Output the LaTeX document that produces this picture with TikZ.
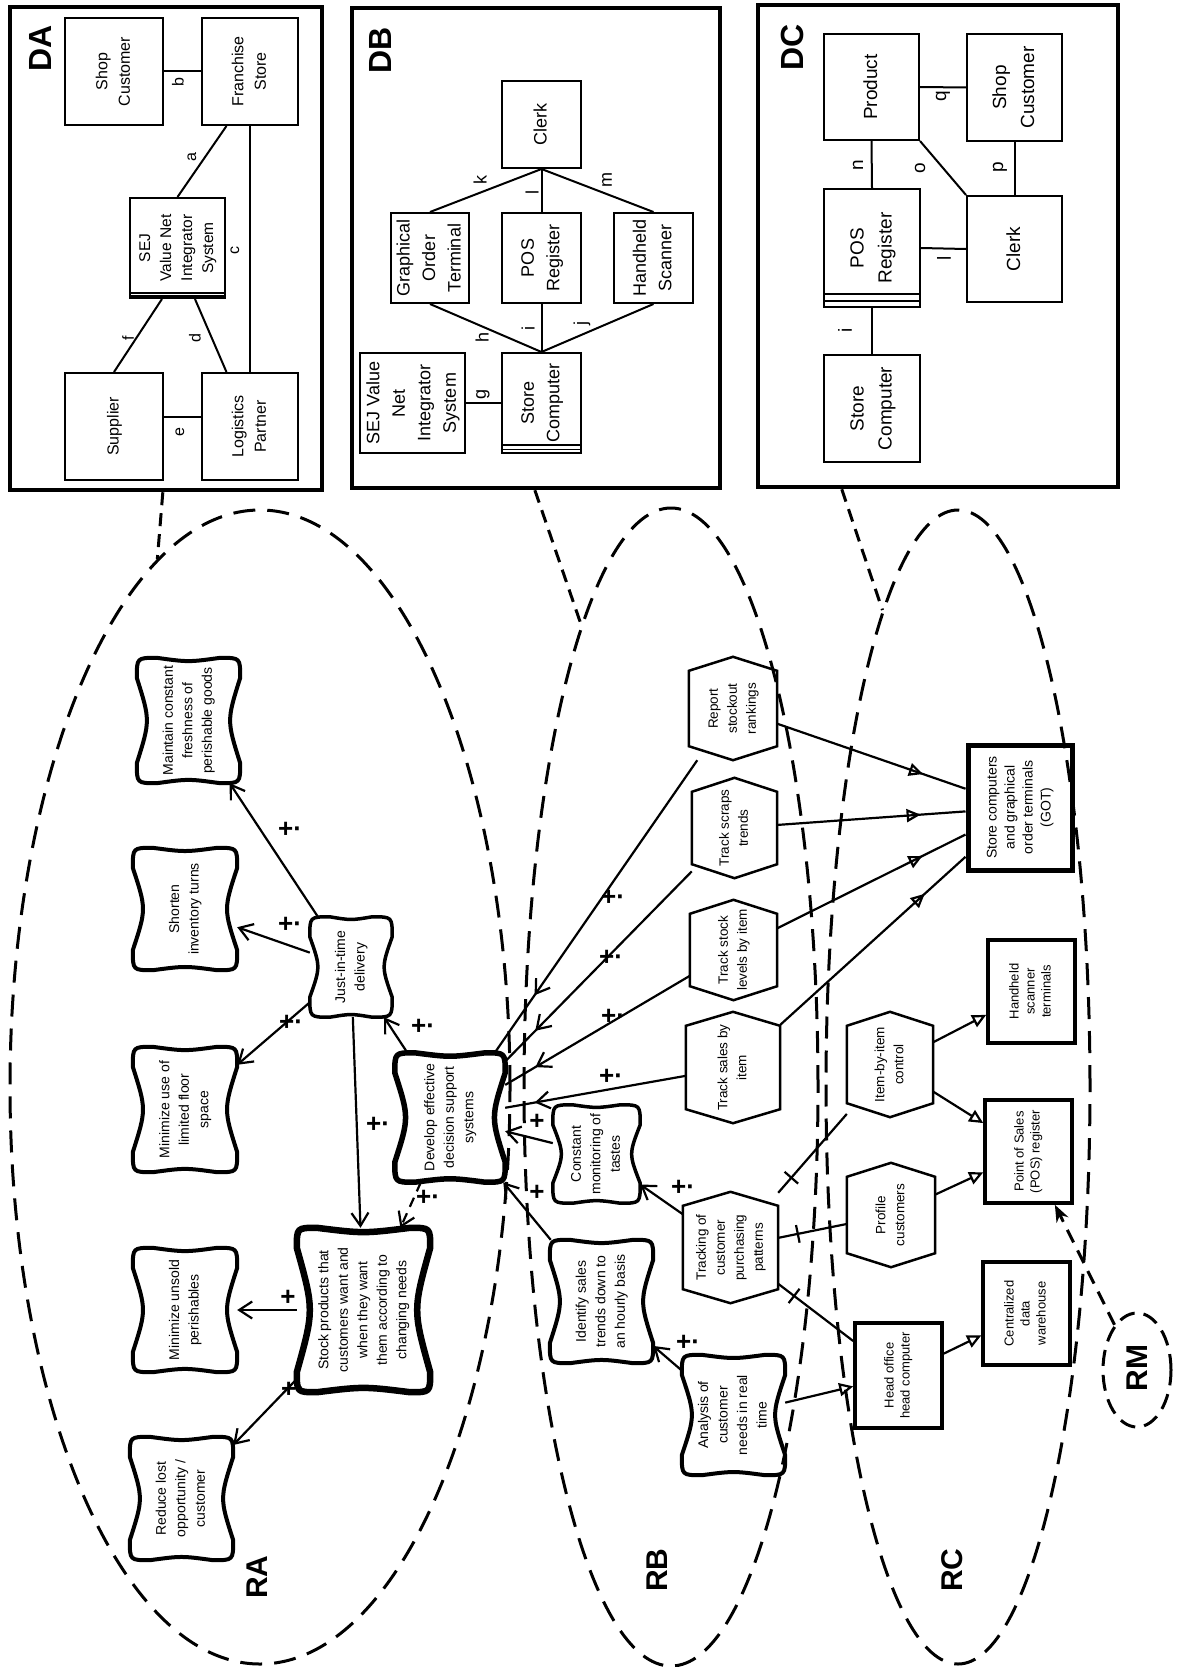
\documentclass[tikz,border=0pt]{standalone}
\usepackage{fontspec}
\setmainfont{Liberation Sans}
\usepackage{graphicx}
\usetikzlibrary{arrows.meta,calc,shapes.geometric,decorations.markings}

% text turned a quarter turn, lines centred
\newcommand\vtext[1]{\rotatebox{90}{\begin{tabular}{@{}c@{}}#1\end{tabular}}}

% soft goal outline: well rounded box with gently pinched sides
\newcommand\cushion[2]{%
  \draw[line width=#2,line join=round]
    let \p1=(#1.north west), \p2=(#1.south east),
        \n1={\x2-\x1}, \n2={\y1-\y2} in
    ({\x1+20pt},\y1)
    .. controls ({0.5*\x1+0.5*\x2},{\y1-0.035*\n2}) .. ({\x2-20pt},\y1)
    .. controls (\x2,\y1) .. (\x2,{\y1-20pt})
    .. controls ({\x2-0.13*\n1},{0.5*\y1+0.5*\y2}) .. (\x2,{\y2+20pt})
    .. controls (\x2,\y2) .. ({\x2-20pt},\y2)
    .. controls ({0.5*\x1+0.5*\x2},{\y2+0.035*\n2}) .. ({\x1+20pt},\y2)
    .. controls (\x1,\y2) .. (\x1,{\y2+20pt})
    .. controls ({\x1+0.13*\n1},{0.5*\y1+0.5*\y2}) .. (\x1,{\y1-20pt})
    .. controls (\x1,\y1) .. ({\x1+20pt},\y1) -- cycle;}

% task outline: hexagon pointed at top and bottom
\newcommand\hexa[1]{%
  \draw[hexline] (#1.north) -- ([yshift=-14pt]#1.north east)
    -- ([yshift=14pt]#1.south east) -- (#1.south)
    -- ([yshift=14pt]#1.south west) -- ([yshift=-14pt]#1.north west) -- cycle;}

\newcommand\fsA{\fontsize{16}{22.5}\selectfont}
\newcommand\fsB{\fontsize{18}{25.5}\selectfont}
\newcommand\fsC{\fontsize{19}{28}\selectfont}

\tikzset{
  vhead/.tip={Straight Barb[length=13pt,width=17pt]},
  trihead/.tip={Triangle[open,length=14pt,width=13pt]},
  outerframe/.style={draw,line width=4.5pt,inner sep=0pt},
  dnode/.style={draw,line width=2pt,inner sep=0pt},
  dline/.style={line width=2pt},
  linklabel/.style={inner sep=0pt,rotate=90},
  biglabel/.style={inner sep=0pt,rotate=90,font=\fontsize{32}{32}\selectfont\bfseries},
  reglabel/.style={inner sep=0pt,rotate=90,font=\fontsize{30}{30}\selectfont\bfseries},
  region/.style={ellipse,draw,line width=3pt,dash pattern=on 22pt off 12pt,inner sep=0pt},
  dlink/.style={line width=3pt,dash pattern=on 13pt off 8pt},
  sgnode/.style={inner sep=0pt,font=\fontsize{14}{19.5}\selectfont},
  hexnode/.style={inner sep=0pt,font=\fontsize{13.5}{19}\selectfont},
  hexline/.style={line width=2.5pt,line join=miter},
  resnode/.style={draw,line width=3.5pt,inner sep=0pt,font=\fontsize{13}{16}\selectfont},
  cline/.style={line width=2.2pt},
  contrib/.style={cline,-{vhead}},
  vat/.style={decoration={markings,mark=at position #1 with {\arrow{vhead}}},postaction={decorate}},
  triat/.style={decoration={markings,mark=at position #1 with {\arrow{trihead}}},postaction={decorate}},
  meansend/.style={cline,-{trihead}},
  decomp/.style={cline,decoration={markings,mark=at position 20pt with {\draw[line width=2.2pt] (0pt,-9pt) -- (0pt,9pt);}},postaction={decorate}},
  rmlink/.style={line width=3pt,dash pattern=on 14pt off 9pt,-{Stealth[length=17pt,width=13pt]}},
  plus/.style={inner sep=0pt,font=\fontsize{26}{26}\selectfont\bfseries},
}

\begin{document}
\begin{tikzpicture}[x=1pt,y=-1pt]
\useasboundingbox (0,0) rectangle (1178,1667);
\fill[white] (0,0) rectangle (1178,1667);

% ---------- regions ----------
\node[region,minimum width=500pt,minimum height=1154pt] (ra) at (260,1087) {};
\node[region,minimum width=294pt,minimum height=1158pt] (rb) at (671,1087) {};
\node[region,minimum width=264pt,minimum height=1154pt] (rc) at (958,1087) {};
\node[region,dash pattern=on 16pt off 9pt,minimum width=68pt,minimum height=114pt] (rm) at (1137,1370) {};
\node[reglabel] (lra) at (257,1577) {RA};
\node[reglabel] (lrb) at (657,1570) {RB};
\node[reglabel] (lrc) at (952,1570) {RC};
\node[reglabel] (lrm) at (1137,1368) {RM};

% ---------- DA ----------
\node[outerframe,minimum width=312pt,minimum height=483pt] (dabox) at (166,248.5) {};
\node[biglabel] (lda) at (40,48) {DA};
\node[dnode,font=\fsA,minimum width=98pt,minimum height=107pt] (dashop) at (114,71.5) {\vtext{Shop\\Customer}};
\node[dnode,font=\fsA,minimum width=96pt,minimum height=107pt] (dafran) at (250,71.5) {\vtext{Franchise\\Store}};
\node[dnode,font=\fontsize{15.5}{21}\selectfont,minimum width=95pt,minimum height=100pt] (dasej) at (177.5,248) {\vtext{SEJ\\Value Net\\Integrator\\System}};
\node[dnode,font=\fsA,minimum width=98pt,minimum height=107pt] (dasup) at (114,426.5) {\vtext{Supplier}};
\node[dnode,font=\fsA,minimum width=96pt,minimum height=107pt] (dalog) at (250,426.5) {\vtext{Logistics\\Partner}};
\draw[line width=1.3pt] ([yshift=3pt]dasej.south west) -- ([yshift=3pt]dasej.south east)
  ([yshift=6pt]dasej.south west) -- ([yshift=6pt]dasej.south east);
\draw[dline] (dashop.east) -- (dafran.west);
\draw[dline] ([yshift=9.5pt]dasup.east) -- ([yshift=9.5pt]dalog.west);
\draw[dline] (dasej.north) -- ($(dafran.south west)!0.26!(dafran.south east)$);
\draw[dline] (dafran.south) -- (dalog.north);
\draw[dline] ($(dasej.south west)!0.68!(dasej.south east)$) -- ($(dalog.north west)!0.26!(dalog.north east)$);
\draw[dline] ($(dasej.south west)!0.34!(dasej.south east)$) -- (dasup.north);
\node[linklabel,font=\fsA] (laa) at (192,157) {a};
\node[linklabel,font=\fsA] (lab) at (178,82) {b};
\node[linklabel,font=\fsA] (lac) at (235,250) {c};
\node[linklabel,font=\fsA] (lad) at (195,338) {d};
\node[linklabel,font=\fsA] (lae) at (180,432) {e};
\node[linklabel,font=\fsA] (laf) at (128,338) {f};

% ---------- DB ----------
\node[outerframe,minimum width=368pt,minimum height=480pt] (dbbox) at (536,248) {};
\node[biglabel] (ldb) at (380,50) {DB};
\node[dnode,font=\fsB,minimum width=79pt,minimum height=87pt] (dbclerk) at (541.5,124.5) {\vtext{Clerk}};
\node[dnode,font=\fsB,minimum width=78pt,minimum height=90pt] (dbgot) at (430,258) {\vtext{Graphical\\Order\\Terminal}};
\node[dnode,font=\fsB,minimum width=79pt,minimum height=90pt] (dbpos) at (541.5,258) {\vtext{POS\\Register}};
\node[dnode,font=\fsB,minimum width=79pt,minimum height=90pt] (dbhand) at (653.5,258) {\vtext{Handheld\\Scanner}};
\node[dnode,font=\fsB,minimum width=79pt,minimum height=100pt] (dbstore) at (541.5,403) {\vtext{Store\\Computer}};
\node[dnode,font=\fsB,minimum width=105pt,minimum height=100pt] (dbsej) at (412.5,403) {\vtext{SEJ Value\\Net\\Integrator\\System}};
\draw[line width=1.5pt] ([yshift=4.5pt]dbstore.south west) -- ([yshift=4.5pt]dbstore.south east)
  ([yshift=9pt]dbstore.south west) -- ([yshift=9pt]dbstore.south east);
\draw[dline] (dbsej.east) -- (dbstore.west);
\draw[dline] (dbclerk.south) -- (dbgot.north);
\draw[dline] (dbclerk.south) -- (dbpos.north);
\draw[dline] (dbclerk.south) -- (dbhand.north);
\draw[dline] (dbgot.south) -- (dbstore.north);
\draw[dline] (dbpos.south) -- (dbstore.north);
\draw[dline] (dbhand.south) -- (dbstore.north);
\node[linklabel,font=\fsB] (lbg) at (483,394) {g};
\node[linklabel,font=\fsB] (lbh) at (482,337) {h};
\node[linklabel,font=\fsB] (lbi) at (528,328) {i};
\node[linklabel,font=\fsB] (lbj) at (582,323) {j};
\node[linklabel,font=\fsB] (lbk) at (480,180) {k};
\node[linklabel,font=\fsB] (lbl) at (532,192) {l};
\node[linklabel,font=\fsB] (lbm) at (607,180) {m};

% ---------- DC ----------
\node[outerframe,minimum width=360pt,minimum height=482pt] (dcbox) at (938,246) {};
\node[biglabel] (ldc) at (792,47) {DC};
\node[dnode,font=\fsC,minimum width=95pt,minimum height=106pt] (dcprod) at (871.5,87) {\vtext{Product}};
\node[dnode,font=\fsC,minimum width=95pt,minimum height=107pt] (dcshop) at (1014.5,87.5) {\vtext{Shop\\Customer}};
\node[dnode,font=\fsC,minimum width=96pt,minimum height=118pt] (dcpos) at (872,248) {\vtext{POS\\Register}};
\node[dnode,font=\fsC,minimum width=95pt,minimum height=106pt] (dcclerk) at (1014.5,249) {\vtext{Clerk}};
\node[dnode,font=\fsC,minimum width=96pt,minimum height=107pt] (dcstore) at (872,408.5) {\vtext{Store\\Computer}};
\draw[line width=2pt] ([yshift=7pt]dcpos.south west) -- ([yshift=7pt]dcpos.south east)
  ([yshift=14pt]dcpos.south west) -- ([yshift=14pt]dcpos.south east);
\draw[dline] (dcprod.east) -- (dcshop.west);
\draw[dline] (dcprod.south) -- (dcpos.north);
\draw[dline] (dcprod.south east) -- (dcclerk.north west);
\draw[dline] (dcshop.south) -- (dcclerk.north);
\draw[dline] (dcpos.east) -- (dcclerk.west);
\draw[dline] (dcpos.south) -- (dcstore.north);
\node[linklabel,font=\fsC] (lcq) at (943,96) {q};
\node[linklabel,font=\fsC] (lcn) at (858,165) {n};
\node[linklabel,font=\fsC] (lco) at (920,168) {o};
\node[linklabel,font=\fsC] (lcp) at (1000,167) {p};
\node[linklabel,font=\fsC] (lcl) at (944,258) {l};
\node[linklabel,font=\fsC] (lci) at (845,330) {i};

% dashed ties from each detail frame to its region
\draw[dlink] ($(dabox.south west)!0.49!(dabox.south east)$) -- (ra.101);
\draw[dlink] ($(dbbox.south west)!0.497!(dbbox.south east)$) -- (rb.101);
\draw[dlink] ($(dcbox.south west)!0.236!(dcbox.south east)$) -- (rc.99);

% ---------- soft goals ----------
\node[sgnode,minimum width=103pt,minimum height=125pt] (fresh) at (188.5,720.5) {\vtext{Maintain constant\\freshness of\\perishable goods}};
\node[sgnode,minimum width=104pt,minimum height=122pt] (turns) at (185,909) {\vtext{Shorten\\inventory turns}};
\node[sgnode,minimum width=104pt,minimum height=125pt] (floor) at (185,1109.5) {\vtext{Minimize use of\\limited floor\\space}};
\node[sgnode,minimum width=104pt,minimum height=124pt] (unsold) at (185,1310) {\vtext{Minimize unsold\\perishables}};
\node[sgnode,minimum width=103pt,minimum height=123pt] (lost) at (181.5,1498.5) {\vtext{Reduce lost\\opportunity /\\customer}};
\node[sgnode,minimum width=82pt,minimum height=100pt] (jit) at (351,967) {\vtext{Just-in-time\\delivery}};
\node[sgnode,minimum width=133pt,minimum height=164pt] (stock) at (363.5,1310) {\vtext{Stock products that\\customers want and\\when they want\\them according to\\changing needs}};
\node[sgnode,minimum width=110pt,minimum height=129pt] (dss) at (450,1117.5) {\vtext{Develop effective\\decision support\\systems}};
\node[sgnode,minimum width=87pt,minimum height=98pt] (taste) at (596.5,1154) {\vtext{Constant\\monitoring of\\tastes}};
\node[sgnode,minimum width=103pt,minimum height=123pt] (ident) at (601.5,1301.5) {\vtext{Identify sales\\trends down to\\an hourly basis}};
\node[sgnode,minimum width=103pt,minimum height=120pt] (analysis) at (733.5,1415) {\vtext{Analysis of\\customer\\needs in real\\time}};
\cushion{fresh}{4pt}
\cushion{turns}{4pt}
\cushion{floor}{4pt}
\cushion{unsold}{4pt}
\cushion{lost}{4pt}
\cushion{jit}{3.5pt}
\cushion{stock}{6.5pt}
\cushion{dss}{5.5pt}
\cushion{taste}{3.5pt}
\cushion{ident}{4pt}
\cushion{analysis}{4pt}

% ---------- tasks ----------
\node[hexnode,minimum width=88pt,minimum height=103pt] (stockout) at (733,708.5) {\vtext{Report\\stockout\\rankings}};
\node[hexnode,minimum width=85pt,minimum height=100pt] (scraps) at (734.5,828) {\vtext{Track scraps\\trends}};
\node[hexnode,minimum width=87pt,minimum height=100pt] (level) at (733.5,950) {\vtext{Track stock\\levels by item}};
\node[hexnode,minimum width=94pt,minimum height=111pt] (sales) at (733,1067.5) {\vtext{Track sales by\\item}};
\node[hexnode,minimum width=95pt,minimum height=111pt] (track) at (730.5,1247.5) {\vtext{Tracking of\\customer\\purchasing\\patterns}};
\node[hexnode,minimum width=86pt,minimum height=105pt] (item) at (890,1064.5) {\vtext{Item-by-item\\control}};
\node[hexnode,minimum width=88pt,minimum height=104pt] (profile) at (891,1215) {\vtext{Profile\\customers}};
\hexa{stockout}
\hexa{scraps}
\hexa{level}
\hexa{sales}
\hexa{track}
\hexa{item}
\hexa{profile}

% ---------- resources ----------
\node[resnode,line width=5pt,font=\fontsize{14}{18}\selectfont,minimum width=104pt,minimum height=125pt] (got) at (1020,807.5) {\vtext{Store computers\\and graphical\\order terminals\\(GOT)}};
\node[resnode,minimum width=87pt,minimum height=103pt] (hand) at (1031.5,991.5) {\vtext{Handheld\\scanner\\terminals}};
\node[resnode,minimum width=87pt,minimum height=103pt] (posreg) at (1028.5,1151.5) {\vtext{Point of Sales\\(POS) register}};
\node[resnode,minimum width=87pt,minimum height=103pt] (dw) at (1026.5,1313.5) {\vtext{Centralized\\data\\warehouse}};
\node[resnode,minimum width=87pt,minimum height=105pt] (head) at (898.5,1375.5) {\vtext{Head office\\head computer}};

% ---------- contributions ----------
\draw[contrib] (jit) -- (fresh);
\draw[contrib] (jit) -- (turns);
\draw[contrib] (jit) -- (floor);
\draw[contrib] (jit) -- (stock);
\draw[contrib] (stock) -- (unsold);
\draw[contrib] (stock) -- (lost);
\draw[contrib] (dss) -- (jit);
\draw[contrib,dash pattern=on 10pt off 7pt] (dss) -- (stock);
\draw[cline,vat=-70pt] (stockout) -- (dss);
\draw[cline,vat=-43pt] (scraps) -- (dss);
\draw[cline,vat=-35pt] (level) -- (dss);
\draw[cline,vat=-30pt] (sales) -- (dss);
\draw[contrib] (taste) -- (dss);
\draw[contrib] (track) -- (taste);
\draw[contrib] (ident) -- (dss);
\draw[contrib] (analysis) -- (ident);

\node[plus] (p1) at (290,830) {+·};
\node[plus] (p2) at (290,925) {+·};
\node[plus] (p3) at (291,1023) {+·};
\node[plus] (p4) at (378,1125) {+·};
\node[plus] (p5) at (288,1298) {+};
\node[plus] (p6) at (293,1390) {+·};
\node[plus] (p7) at (423,1027) {+·};
\node[plus] (p8) at (428,1198) {+·};
\node[plus] (p9) at (613,898) {+·};
\node[plus] (p10) at (611,958) {+·};
\node[plus] (p11) at (613,1017) {+·};
\node[plus] (p12) at (611,1077) {+·};
\node[plus] (p13) at (537,1122) {+};
\node[plus] (p14) at (683,1188) {+·};
\node[plus] (p15) at (537,1193) {+};
\node[plus] (p16) at (688,1343) {+·};

% ---------- decompositions ----------
\draw[decomp] (track) -- (item);
\draw[decomp] (track) -- (profile);
\draw[decomp] (track) -- (head);

% ---------- means-ends ----------
\draw[cline,triat=-45pt] (stockout) -- (got);
\draw[cline,triat=-45pt] (scraps) -- (got);
\draw[cline,triat=-48pt] (level) -- (got);
\draw[cline,triat=-55pt] (sales) -- (got);
\draw[meansend] (item) -- (hand);
\draw[meansend] (item) -- (posreg);
\draw[meansend] (profile) -- (posreg);
\draw[meansend] (head) -- (dw);
\draw[meansend] (analysis) -- (head);

\draw[rmlink] (rm) -- (posreg);
\end{tikzpicture}
\end{document}
